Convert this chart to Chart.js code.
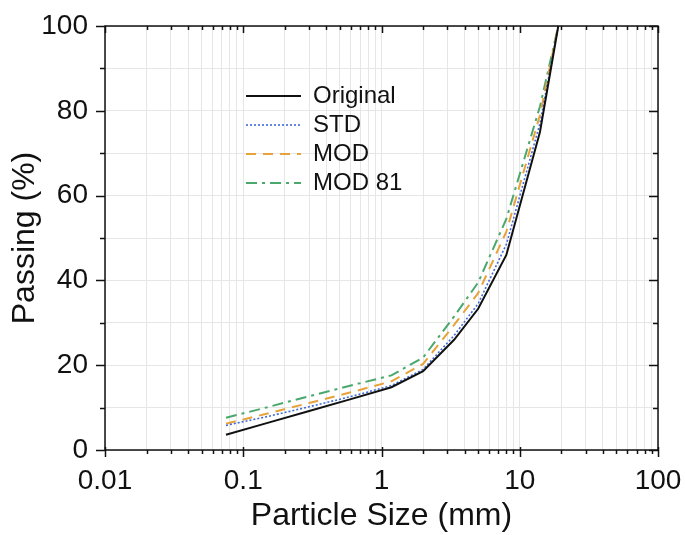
<!DOCTYPE html>
<html><head><meta charset="utf-8">
<script src="https://cdn.jsdelivr.net/npm/chart.js@4.4.1/dist/chart.umd.min.js"></script>
<style>html,body{margin:0;padding:0;background:#fff}#wrap{width:685px;height:535px}</style>
</head><body><div id="wrap"><canvas id="c" width="685" height="535"></canvas></div>
<script>
// ---- data ----
const sizes    = [0.075, 0.15, 0.3, 0.6, 1.18, 2, 3.35, 5, 8, 14, 19];
const original = [3.6, 6.4, 9.2, 12.0, 14.8, 18.6, 26.0, 33.3, 46.0, 75.0, 100];
const std      = [5.8, 7.9, 10.2, 12.6, 15.2, 19.0, 27.0, 34.5, 48.5, 77.0, 100];
const mod      = [6.2, 8.6, 11.1, 13.6, 16.2, 20.3, 29.5, 37.0, 51.5, 79.0, 100];
const mod81    = [7.6, 10.1, 12.7, 15.2, 17.6, 21.8, 31.5, 39.5, 54.5, 81.0, 100];
const seriesNames = ['Original', 'STD', 'MOD', 'MOD 81'];
const xTickLabels = ['0.01', '0.1', '1', '10', '100'];
const yTickLabels = [0, 20, 40, 60, 80, 100];

const pts = arr => sizes.map((x, i) => ({x: x, y: arr[i]}));
const FONT = "'Liberation Sans', Arial, sans-serif";

// small canvas used as the legend sample of a line style
function lineSample(color, width, dash) {
  const c = document.createElement('canvas');
  c.width = 55; c.height = 8;
  const g = c.getContext('2d');
  g.strokeStyle = color; g.lineWidth = width; g.setLineDash(dash);
  g.beginPath(); g.moveTo(0, 4); g.lineTo(55, 4); g.stroke();
  return c;
}

const styles = [
  {color: '#111111', width: 2,   dash: []},
  {color: '#3f6ad8', width: 1.6, dash: [2, 2]},
  {color: '#e8a23a', width: 2,   dash: [10, 7]},
  {color: '#4aa86c', width: 2,   dash: [11, 5, 3, 5]}
];
const seriesData = [original, std, mod, mod81];

const framePlugin = {
  id: 'frame',
  afterDatasetsDraw(chart) {
    const {ctx, chartArea: a, scales: {x, y}} = chart;
    ctx.save();
    ctx.strokeStyle = '#111';
    ctx.lineWidth = 1.5;
    ctx.setLineDash([]);
    ctx.strokeRect(a.left, a.top, a.right - a.left, a.bottom - a.top);
    ctx.beginPath();
    x.ticks.forEach(t => {
      const px = Math.round(x.getPixelForValue(t.value)) + 0.5;
      if (t.major) {
        ctx.moveTo(px, a.bottom - 3); ctx.lineTo(px, a.bottom + 7);
        ctx.moveTo(px, a.top); ctx.lineTo(px, a.top + 7);
      } else {
        ctx.moveTo(px, a.bottom); ctx.lineTo(px, a.bottom + 4);
        ctx.moveTo(px, a.top); ctx.lineTo(px, a.top + 4);
      }
    });
    y.ticks.forEach(t => {
      const py = Math.round(y.getPixelForValue(t.value)) + 0.5;
      const len = (t.value % 20 === 0) ? 9 : 5;
      ctx.moveTo(a.left - len, py); ctx.lineTo(a.left, py);
      ctx.moveTo(a.right - len, py); ctx.lineTo(a.right, py);
    });
    ctx.stroke();
    ctx.restore();
  }
};

const legendMove = {
  id: 'legendMove',
  afterLayout(chart) {
    const lg = chart.legend;
    if (!lg) return;
    lg.left = 241; lg.top = 79;
    lg.right = lg.left + 200; lg.bottom = lg.top + 140;
    lg.width = 200; lg.height = 140;
  }
};

new Chart(document.getElementById('c'), {
  type: 'line',
  data: {
    datasets: seriesData.map((arr, i) => ({
      label: seriesNames[i],
      data: pts(arr),
      borderColor: styles[i].color,
      backgroundColor: styles[i].color,
      borderWidth: styles[i].width,
      borderDash: styles[i].dash,
      pointStyle: lineSample(styles[i].color, styles[i].width, styles[i].dash),
      pointRadius: 0, tension: 0, fill: false
    }))
  },
  options: {
    responsive: false,
    animation: false,
    devicePixelRatio: 1,
    layout: {padding: {top: 26, right: 27, left: 0, bottom: 0}},
    plugins: {
      tooltip: {enabled: false},
      legend: {
        position: 'chartArea',
        align: 'start',
        labels: {
          usePointStyle: true,
          pointStyleWidth: 55,
          padding: 5,
          color: '#111',
          font: {family: FONT, size: 24}
        }
      }
    },
    scales: {
      x: {
        type: 'logarithmic',
        min: 0.01, max: 100,
        afterBuildTicks(scale) {
          const t = [];
          [0.01, 0.1, 1, 10].forEach(d => {
            for (let k = 1; k <= 9; k++) t.push({value: parseFloat((d * k).toPrecision(3)), major: k === 1});
          });
          t.push({value: 100, major: true});
          scale.ticks = t;
        },
        afterFit(scale) {
          scale.height = 85;
          scale.paddingLeft = 0; scale.paddingRight = 0;
        },
        ticks: {
          autoSkip: false, maxRotation: 0, minRotation: 0, padding: 14, color: '#111',
          font: {family: FONT, size: 28},
          callback(v) {
            const i = xTickLabels.findIndex(s => Math.abs(parseFloat(s) - v) < 1e-9);
            return i >= 0 ? xTickLabels[i] : '';
          }
        },
        grid: {color: '#e6e6e6', lineWidth: 1, drawTicks: false},
        border: {display: false},
        title: {display: true, text: 'Particle Size (mm)', color: '#111', font: {family: FONT, size: 32}, padding: {top: 0, bottom: 0}}
      },
      y: {
        type: 'linear',
        min: 0, max: 100,
        afterFit(scale) {
          scale.width = 105;
          scale.paddingTop = 0; scale.paddingBottom = 0;
        },
        ticks: {
          stepSize: 10, padding: 17, color: '#111',
          font: {family: FONT, size: 28},
          callback(v) { return yTickLabels.includes(v) ? String(v) : ''; }
        },
        grid: {color: '#e6e6e6', lineWidth: 1, drawTicks: false},
        border: {display: false},
        title: {display: true, text: 'Passing (%)', color: '#111', font: {family: FONT, size: 32}, padding: {top: 6, bottom: 0}}
      }
    }
  },
  plugins: [framePlugin, legendMove]
});
</script>
</body></html>
